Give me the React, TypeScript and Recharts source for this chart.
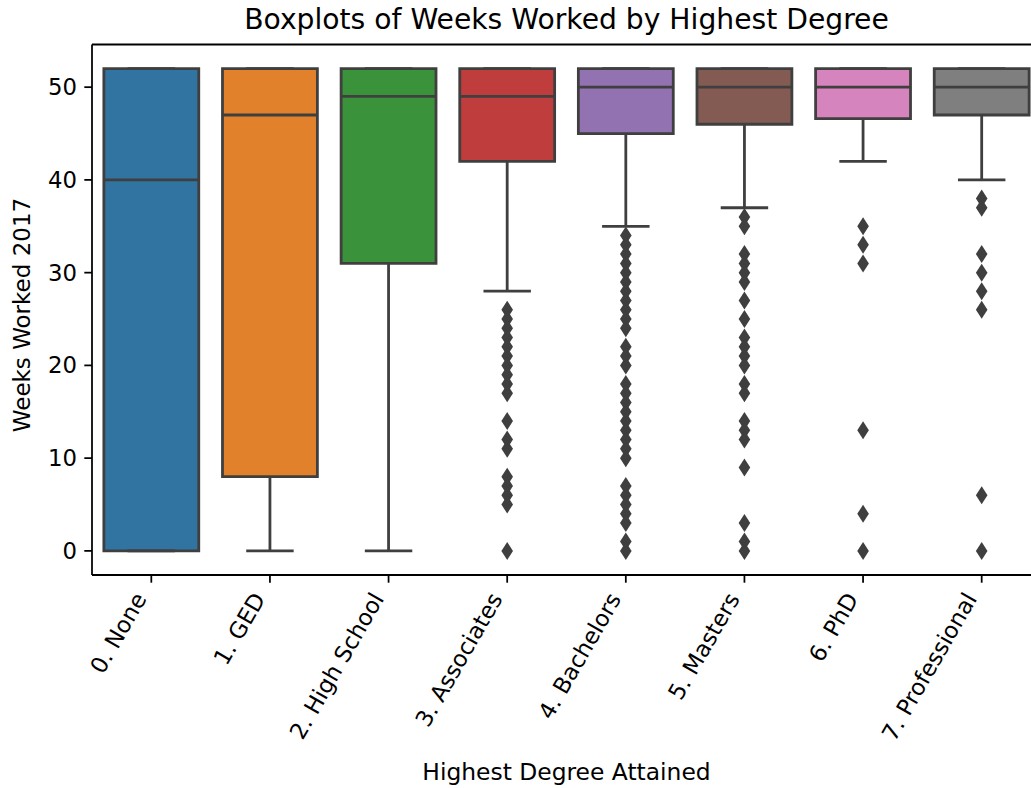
import React from 'react';
import { ComposedChart, XAxis, YAxis, Scatter, ReferenceArea, ReferenceLine } from 'recharts';

const categories = ['0. None', '1. GED', '2. High School', '3. Associates', '4. Bachelors', '5. Masters', '6. PhD', '7. Professional'];
const q1Values = [0, 8, 31, 42, 45, 46, 46.6, 47];
const medianValues = [40, 47, 49, 49, 50, 50, 50, 50];
const q3Values = [52, 52, 52, 52, 52, 52, 52, 52];
const whiskerLowValues = [0, 0, 0, 28, 35, 37, 42, 40];
const whiskerHighValues = [52, 52, 52, 52, 52, 52, 52, 52];

const outliersNone: number[] = [];
const outliersGED: number[] = [];
const outliersHighSchool: number[] = [];
const outliersAssociates = [26, 25, 24, 23, 22, 21, 20, 19, 18, 17, 14, 12, 11, 8, 7, 6, 5, 0];
const outliersBachelors = [34, 33, 32, 31, 30, 29, 28, 27, 26, 25, 24, 22, 21, 20, 18, 17, 16, 15, 14, 13, 12, 11, 10, 7, 6, 5, 4, 3, 1, 0];
const outliersMasters = [36, 35, 32, 31, 30, 29, 27, 25, 23, 22, 21, 20, 18, 17, 14, 13, 12, 9, 3, 1, 0];
const outliersPhD = [35, 33, 31, 13, 4, 0];
const outliersProfessional = [38, 37, 32, 30, 28, 26, 6, 0];

const yTicks = [0, 10, 20, 30, 40, 50];
const colors = ['#3274a1', '#e1812c', '#3a923a', '#c03d3e', '#9372b2', '#845b53', '#d684bd', '#7f7f7f'];

const outlierGroups = [outliersNone, outliersGED, outliersHighSchool, outliersAssociates, outliersBachelors, outliersMasters, outliersPhD, outliersProfessional];
const outlierData = outlierGroups.flatMap((arr, i) => arr.map((v) => ({ x: i, y: v })));

const FONT = '"DejaVu Sans", sans-serif';
const LINE = '#3f3f3f';
const LW = 2.8;
const HALF = 0.4;
const CAP = 0.2;
const TICK_FS = 22.8;

const XTick = (props: any) => {
  const { x, y, payload } = props;
  const ax = x - 4;
  const ay = y + 14;
  return (
    <text x={ax} y={ay} textAnchor="end" transform={`rotate(-60 ${ax} ${ay})`} fontSize={TICK_FS} fontFamily={FONT} fill="#000">
      {categories[payload.value]}
    </text>
  );
};

const Diamond = (props: any) => {
  const { cx, cy } = props;
  if (cx == null || cy == null) return null;
  return <path d={`M${cx},${cy - 9} L${cx + 5.8},${cy} L${cx},${cy + 9} L${cx - 5.8},${cy} Z`} fill={LINE} />;
};

export default function App() {
  return (
    <div style={{ position: 'absolute', left: 0, top: 0, width: 1031, height: 788, overflow: 'hidden', background: '#fff' }}>
      <ComposedChart width={1045} height={788} margin={{ top: 44.5, right: 4, bottom: 0, left: 0 }}>
        <XAxis
          type="number"
          dataKey="x"
          domain={[-0.5, 7.5]}
          allowDataOverflow
          ticks={[0, 1, 2, 3, 4, 5, 6, 7]}
          interval={0}
          height={213}
          tickSize={7.7}
          axisLine={{ stroke: '#000', strokeWidth: 1.76 }}
          tickLine={{ stroke: '#000', strokeWidth: 1.76 }}
          tick={<XTick />}
        />
        <YAxis
          type="number"
          dataKey="y"
          domain={[-2.6, 54.6]}
          allowDataOverflow
          ticks={yTicks}
          interval={0}
          width={92}
          tickSize={7.7}
          tickMargin={7.2}
          axisLine={{ stroke: '#000', strokeWidth: 1.76 }}
          tickLine={{ stroke: '#000', strokeWidth: 1.76 }}
          tick={{ fontSize: TICK_FS, fontFamily: FONT, fill: '#000' }}
        />
        <ReferenceLine y={54.6} stroke="#000" strokeWidth={1.76} ifOverflow="visible" />
        {categories.map((c, i) => (
          <ReferenceLine key={`wl-${c}`} segment={[{ x: i, y: q1Values[i] }, { x: i, y: whiskerLowValues[i] }]} stroke={LINE} strokeWidth={LW} ifOverflow="visible" />
        ))}
        {categories.map((c, i) => (
          <ReferenceLine key={`wh-${c}`} segment={[{ x: i, y: q3Values[i] }, { x: i, y: whiskerHighValues[i] }]} stroke={LINE} strokeWidth={LW} ifOverflow="visible" />
        ))}
        {categories.map((c, i) => (
          <ReferenceLine key={`cl-${c}`} segment={[{ x: i - CAP, y: whiskerLowValues[i] }, { x: i + CAP, y: whiskerLowValues[i] }]} stroke={LINE} strokeWidth={LW} ifOverflow="visible" />
        ))}
        {categories.map((c, i) => (
          <ReferenceLine key={`ch-${c}`} segment={[{ x: i - CAP, y: whiskerHighValues[i] }, { x: i + CAP, y: whiskerHighValues[i] }]} stroke={LINE} strokeWidth={LW} ifOverflow="visible" />
        ))}
        {categories.map((c, i) => (
          <ReferenceArea key={`box-${c}`} x1={i - HALF} x2={i + HALF} y1={q1Values[i]} y2={q3Values[i]} fill={colors[i]} fillOpacity={1} stroke={LINE} strokeWidth={LW} ifOverflow="visible" />
        ))}
        {categories.map((c, i) => (
          <ReferenceLine key={`med-${c}`} segment={[{ x: i - HALF, y: medianValues[i] }, { x: i + HALF, y: medianValues[i] }]} stroke={LINE} strokeWidth={LW} ifOverflow="visible" />
        ))}
        <Scatter data={outlierData} dataKey="y" shape={<Diamond />} isAnimationActive={false} />
      </ComposedChart>
      <svg width={1031} height={788} style={{ position: 'absolute', left: 0, top: 0, pointerEvents: 'none' }}>
        <text x={566.5} y={29} textAnchor="middle" fontSize={28.2} fontFamily={FONT} fill="#000">
          Boxplots of Weeks Worked by Highest Degree
        </text>
        <text x={566.5} y={780} textAnchor="middle" fontSize={23.4} fontFamily={FONT} fill="#000">
          Highest Degree Attained
        </text>
        <text x={30} y={315} textAnchor="middle" transform="rotate(-90 30 315)" fontSize={23} fontFamily={FONT} fill="#000">
          Weeks Worked 2017
        </text>
      </svg>
    </div>
  );
}
